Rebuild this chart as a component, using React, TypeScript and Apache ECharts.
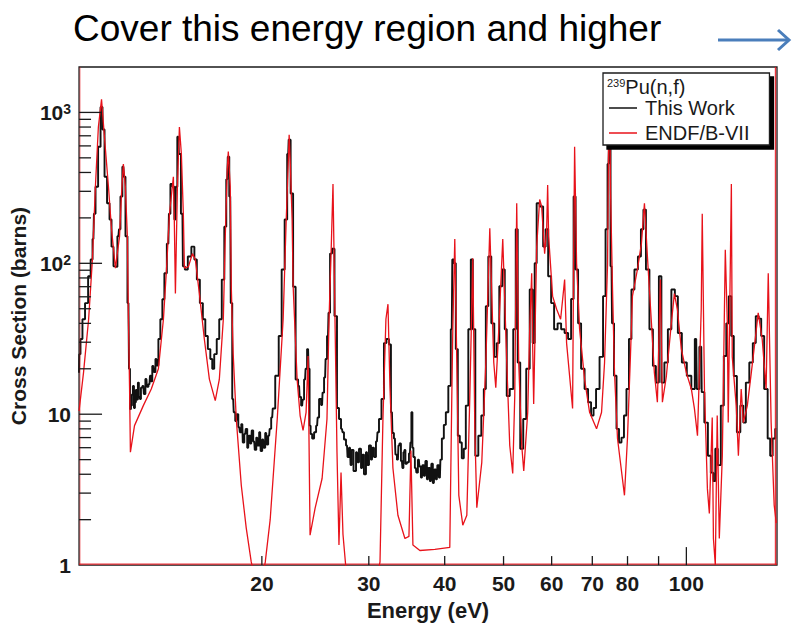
import React, { useEffect, useRef } from "react";
import * as echarts from "echarts";

// ---- Data ----
// "This Work" (measured histogram): energy (eV) and cross section (barns)
const workEnergy = [
  10.0, 10.02, 10.09, 10.17, 10.29, 10.41, 10.49, 10.56, 10.6, 10.69, 10.81, 10.89, 10.97, 11.06, 11.18, 11.27,
  11.35, 11.44, 11.52, 11.61, 11.66, 11.74, 11.83, 11.88, 11.97, 12.06, 12.11, 12.15, 12.2, 12.24, 12.29, 12.34,
  12.38, 12.43, 12.48, 12.52, 12.57, 12.62, 12.67, 12.76, 12.81, 12.91, 12.96, 13.06, 13.11, 13.15, 13.25, 13.31,
  13.41, 13.46, 13.56, 13.66, 13.77, 13.87, 14.03, 14.09, 14.19, 14.3, 14.41, 14.46, 14.57, 14.63, 14.8, 14.85,
  15.02, 15.19, 15.43, 15.54, 15.72, 15.9, 16.08, 16.2, 16.39, 16.51, 16.63, 16.76, 16.95, 17.08, 17.28, 17.41,
  17.54, 17.61, 17.74, 17.81, 17.94, 18.01, 18.15, 18.22, 18.36, 18.43, 18.57, 18.64, 18.78, 18.85, 18.99, 19.07,
  19.21, 19.28, 19.43, 19.51, 19.65, 19.72, 19.87, 19.95, 20.1, 20.18, 20.33, 20.41, 20.56, 20.64, 20.8, 20.88,
  21.2, 21.44, 21.68, 21.93, 22.1, 22.18, 22.43, 22.6, 22.86, 23.03, 23.12, 23.3, 23.38, 23.56, 23.65, 23.83,
  23.92, 24.01, 24.11, 24.29, 24.47, 24.66, 24.75, 24.94, 25.13, 25.22, 25.42, 25.51, 25.7, 25.8, 26.0, 26.19,
  26.49, 26.69, 26.9, 27.1, 27.2, 27.41, 27.62, 27.73, 27.94, 28.05, 28.15, 28.47, 28.69, 28.8, 29.01, 29.24,
  29.34, 29.57, 29.79, 29.91, 30.13, 30.36, 30.48, 30.71, 30.94, 31.06, 31.3, 31.65, 31.89, 32.26, 32.5, 32.75,
  32.87, 33.12, 33.25, 33.5, 33.63, 33.76, 34.01, 34.14, 34.27, 34.4, 34.53, 34.8, 35.06, 35.19, 35.32, 35.46,
  35.59, 35.86, 36.0, 36.27, 36.41, 36.69, 36.83, 37.11, 37.25, 37.53, 37.67, 37.96, 38.1, 38.39, 38.54, 38.83,
  38.98, 39.28, 39.43, 39.72, 40.02, 40.33, 40.78, 41.09, 41.25, 41.56, 41.88, 42.2, 42.52, 42.84, 43.17, 43.5,
  44.0, 44.33, 44.67, 45.18, 45.7, 46.22, 46.57, 46.93, 47.46, 48.0, 48.55, 48.92, 49.48, 50.04, 50.42, 50.8,
  51.58, 52.17, 52.56, 52.96, 53.57, 54.18, 54.8, 55.63, 56.05, 56.48, 56.9, 57.77, 58.43, 58.88, 59.55, 60.22,
  60.91, 61.84, 62.55, 63.5, 64.23, 64.96, 65.46, 65.95, 66.71, 67.47, 68.5, 69.28, 70.07, 70.6, 71.41, 72.5,
  73.33, 73.89, 74.45, 74.73, 75.3, 75.58, 76.44, 77.02, 77.9, 78.48, 79.38, 79.98, 80.89, 81.51, 82.75, 83.69,
  84.65, 85.3, 86.27, 87.59, 88.58, 89.59, 90.62, 91.31, 92.7, 93.76, 95.19, 96.28, 97.37, 99.24, 101.1, 102.7,
  103.8, 104.3, 105.8, 106.2, 107.9, 109.1, 110.3, 111.2, 112.0, 113.3, 114.6, 115.9, 116.8, 118.1, 119.0, 120.4,
  121.8, 123.6, 124.6, 126.0, 127.9, 129.4, 130.8, 132.3, 133.3, 135.3, 136.9, 137.9, 139.5, 140.6,
];
const workXs = [
  18.8, 25, 31.5, 42.6, 54.5, 82, 106, 145, 213, 322, 592, 1087, 770, 375, 250, 195,
  129, 95.5, 95, 151, 168, 277, 437, 375, 151, 54.5, 20, 10.8, 11.4, 13.5, 15.4, 11.0,
  12, 14.5, 12.5, 16.2, 13.0, 12.6, 15.0, 15.4, 13.6, 17.1, 15.2, 15.8, 18.0, 16.5, 20.9, 19.0,
  23.2, 21.0, 31.5, 42.6, 57.8, 86, 135, 213, 336, 322, 195, 322, 690, 530, 213, 95.5,
  91, 111, 129, 106, 78, 54.5, 42.6, 33, 27, 23.2, 20, 25, 31.5, 42.6, 78, 175,
  360, 508, 277, 54.5, 12.6, 10.3, 9.0, 10.0, 8.2, 7.6, 8.6, 6.5, 7.4, 8.0, 6.0, 7.2,
  6.4, 7.8, 6.6, 5.8, 7.0, 6.2, 7.6, 5.7, 6.8, 6.0, 7.5, 6.3, 7.2, 8.0, 9.5, 10.9,
  18, 33, 91, 195, 530, 660, 290, 70, 17, 15.4, 13, 11.4, 12.5, 17, 20, 27,
  20, 8.4, 7.4, 6.9, 7.6, 8.4, 9.5, 12.6, 11.5, 13.9, 17.5, 23.2, 33, 47, 116, 125,
  44.7, 11, 9.3, 8.0, 7.6, 6.8, 6.2, 5.2, 6.0, 4.6, 5.8, 4.2, 5.6, 4.8, 5.9, 4.4,
  5.4, 4.0, 5.6, 4.6, 6.2, 5.0, 6.0, 5.2, 6.6, 7.6, 9.3, 12.6, 29.6, 31.5, 29, 10.3,
  7.5, 6.9, 5.4, 5.0, 6.2, 6.4, 4.9, 4.4, 5.6, 5.8, 4.7, 4.8, 5.5, 6.5, 10.3, 6.0,
  5.2, 4.4, 4.1, 5.0, 4.5, 3.8, 4.6, 3.9, 4.9, 3.7, 4.4, 3.6, 4.7, 3.5, 4.3, 3.7,
  4.6, 3.8, 5.0, 6.9, 8.5, 10.3, 15.4, 36.6, 106, 100, 27, 7.2, 6.5, 5.1, 5.9, 11.4,
  36.6, 106, 36.6, 5.3, 7.2, 9.8, 14.7, 52, 111, 40, 24, 29.6, 70.5, 91, 36.6, 13.2,
  14.7, 36.6, 168, 22, 5.9, 9.3, 20, 67, 29.6, 100, 250, 238, 129, 168, 82, 54.5,
  36.6, 40, 36.6, 34.5, 31.5, 58, 277, 91, 40, 20, 14.7, 12, 9.8, 11, 14.7, 24,
  60.6, 168, 455, 650, 95.5, 40, 18, 8, 6.5, 7.0, 9.8, 14.7, 31.5, 67, 91, 111,
  168, 227, 91, 36.6, 20.9, 16.2, 82, 16.2, 22, 36.6, 67, 60.6, 34.5, 22, 18, 14.7,
  31.5, 14.7, 28, 14, 8.8, 5.3, 4.1, 3.6, 5.9, 4.6, 11.4, 24.3, 40, 60.6, 33, 17.9,
  7.6, 11.4, 8.8, 16.2, 22, 29.6, 44.7, 43, 33, 14.7, 6.9, 5.3, 6.9, 8,
];

// ENDF/B-VII evaluation: energy (eV) and cross section (barns)
const endfEnergy = [
  10.0, 10.17, 10.37, 10.52, 10.64, 10.76, 10.89, 11.01, 11.18, 11.31, 11.48, 11.66, 11.74, 11.83, 11.92, 12.01,
  12.06, 12.11, 12.15, 12.34, 12.76, 13.15, 13.51, 13.77, 13.93, 14.09, 14.3, 14.35, 14.41, 14.52, 14.63, 14.74,
  14.85, 14.91, 15.14, 15.37, 15.54, 15.78, 16.08, 16.39, 16.76, 17.02, 17.28, 17.41, 17.54, 17.61, 17.74, 17.81,
  17.94, 18.15, 18.5, 18.85, 19.21, 19.51, 19.8, 20.03, 20.26, 20.64, 21.2, 21.68, 21.93, 22.1, 22.18, 22.26,
  22.43, 22.52, 22.86, 23.12, 23.38, 23.65, 23.83, 24.01, 24.47, 25.13, 25.6, 25.8, 26.0, 26.19, 26.39, 26.59,
  26.79, 27.0, 27.2, 27.61, 28.47, 29.57, 30.71, 31.3, 31.65, 32.01, 32.26, 32.5, 32.87, 33.5, 34.4, 34.93,
  35.19, 35.46, 36.41, 38.54, 40.78, 41.09, 41.25, 41.56, 41.88, 42.2, 42.84, 43.5, 44.0, 44.5, 44.84, 45.18,
  46.04, 46.75, 47.46, 47.82, 48.18, 48.55, 49.11, 49.85, 50.61, 51.19, 51.77, 52.17, 52.56, 52.96, 53.57, 53.98,
  54.8, 55.21, 55.63, 55.84, 56.05, 56.69, 57.34, 57.77, 58.43, 58.88, 59.1, 59.32, 60.22, 61.15, 62.08, 63.03,
  63.5, 64.96, 65.21, 65.46, 65.95, 66.71, 67.98, 69.28, 71.14, 72.5, 73.33, 74.17, 74.45, 74.73, 75.01, 75.58,
  76.15, 77.02, 79.08, 79.98, 80.89, 81.51, 83.06, 84.33, 85.3, 86.27, 87.59, 88.58, 89.59, 90.62, 91.31, 92.7,
  94.47, 95.55, 96.65, 98.11, 100.0, 101.9, 103.1, 104.3, 105.8, 106.2, 107.1, 108.3, 109.1, 110.3, 110.8, 111.6,
  112.4, 113.3, 114.6, 115.9, 116.8, 117.2, 118.6, 119.0, 120.8, 121.8, 123.1, 124.1, 126.0, 127.9, 129.4, 131.3,
  133.3, 135.3, 136.4, 137.9, 139.5, 140.6,
];
const endfXs = [
  10.5, 18.8, 42.6, 106, 322, 800, 1220, 690, 322, 168, 93, 151, 277, 455, 322, 151,
  42.6, 15.4, 5.6, 8.4, 11.4, 14.7, 20, 42.6, 91, 213, 375, 195, 63, 322, 800, 530,
  213, 93, 95, 116, 106, 63, 31.5, 17.1, 12.3, 17, 42.6, 151, 418, 550, 322, 70,
  25, 9.3, 3.37, 1.76, 1.05, 0.8, 0.72, 0.8, 1.05, 2.0, 9.3, 42.6, 190, 450, 710, 500,
  195, 70, 17, 9.8, 7.8, 10.3, 24.3, 1.58, 2.38, 3.75, 9.3, 42.6, 116, 335, 42.6, 5.6,
  1.36, 4.1, 1.6, 0.8, 0.45, 0.5, 0.7, 1.05, 9.3, 42.6, 53.6, 15.4, 4.4, 2.14, 1.5, 1.55,
  5.75, 1.36, 1.25, 1.27, 1.31, 13, 36.6, 145, 21.9, 2.9, 1.84, 2.14, 13.2, 108, 8, 2.4,
  4.8, 22, 171, 60.6, 22, 15, 36.6, 145, 22, 6.2, 4.05, 13.2, 250, 22, 6.2, 4.2,
  10.3, 36.6, 86, 28, 11.7, 129, 265, 238, 116, 168, 330, 151, 60.6, 49.6, 42.6, 78,
  29.6, 10.9, 100, 592, 100, 36.6, 17, 10.3, 8, 10.3, 22, 100, 600, 1500, 300, 67,
  18.8, 6.9, 2.9, 6.9, 24.3, 60.6, 91, 135, 250, 111, 40.3, 18.8, 12, 78, 12, 17.9,
  40.3, 63, 49.6, 27, 18.8, 14.7, 10.9, 7.2, 50, 213, 14.7, 3.2, 2.2, 9.5, 1.5, 1.0,
  9.8, 1.5, 5.3, 123, 40, 8.8, 336, 24, 11.4, 5.3, 14.7, 8.8, 11.4, 18.8, 28, 47,
  31.5, 14.7, 86, 8.8, 2.5, 1.9,
];

// Axis tick values
const xLabelValues = [20, 30, 40, 50, 60, 70, 80, 100];
const xTickValues = [20, 30, 40, 50, 60, 70, 80, 90, 100];
const xDecadeTicks = [100];
const yMajorTicks = [10, 100, 1000];
const yMinorTicks = [2, 3, 4, 5, 6, 7, 8, 9, 20, 30, 40, 50, 60, 70, 80, 90, 200, 300, 400, 500, 600, 700, 800, 900];

const seriesNames = ["This Work", "ENDF/B-VII"];
const headline = "Cover this energy region and higher";

const FONT = '"Liberation Sans", Arial, Helvetica, sans-serif';
const INK = "#1a1a1a";
const RED = "#e8121a";

export default function App() {
  const ref = useRef<HTMLDivElement>(null);

  useEffect(() => {
    if (!ref.current) return;
    const chart = echarts.init(ref.current, null, { renderer: "svg" });

    const work = workEnergy.map((e, i) => [e, workXs[i]]);
    const endf = endfEnergy.map((e, i) => [e, endfXs[i]]);

    const yFormatter = (v: number) => {
      const e = Math.log10(v);
      const r = Math.round(e);
      if (Math.abs(e - r) > 1e-6) return "";
      if (r === 0) return "1";
      if (r === 1) return "10";
      return `{b|10}{s|${r}}`;
    };

    chart.setOption({
      animation: false,
      grid: {
        left: 78,
        right: 15,
        top: 67,
        bottom: 58,
        show: true,
        borderColor: INK,
        borderWidth: 1.3,
        backgroundColor: "transparent",
      },
      legend: {
        orient: "vertical",
        left: 603,
        top: 73,
        data: [
          { name: seriesNames[0], icon: "rect" },
          { name: seriesNames[1], icon: "rect" },
        ],
        itemWidth: 28,
        itemHeight: 1.5,
        itemGap: 5,
        padding: [25, 20, 2, 6],
        backgroundColor: "#fff",
        borderColor: INK,
        borderWidth: 1.3,
        shadowColor: "#000",
        shadowOffsetX: 4,
        shadowOffsetY: 4,
        shadowBlur: 0,
        selectedMode: false,
        textStyle: { fontFamily: FONT, fontSize: 20, color: INK, padding: [0, 0, 0, 3] },
      },
      xAxis: {
        type: "log",
        logBase: 10,
        min: 10,
        max: 141,
        axisLine: { show: false },
        axisTick: { show: false },
        splitLine: { show: false },
        axisLabel: {
          customValues: xLabelValues,
          margin: 8,
          fontFamily: FONT,
          fontSize: 21,
          fontWeight: "bold",
          color: INK,
          formatter: (v: number) => String(Math.round(v)),
        },
        name: "Energy (eV)",
        nameLocation: "middle",
        nameGap: 26,
        nameTextStyle: { fontFamily: FONT, fontSize: 22, fontWeight: "bold", color: INK },
      },
      yAxis: {
        type: "log",
        logBase: 10,
        min: 1,
        max: 2000,
        axisLine: { show: false },
        axisTick: { show: false },
        splitLine: { show: false },
        axisLabel: {
          margin: 8,
          fontFamily: FONT,
          fontSize: 21,
          fontWeight: "bold",
          color: INK,
          showMaxLabel: false,
          formatter: yFormatter,
          rich: {
            b: { fontFamily: FONT, fontSize: 21, fontWeight: "bold", color: INK },
            s: { fontFamily: FONT, fontSize: 14, fontWeight: "bold", color: INK, verticalAlign: "top" },
          },
        },
        name: "Cross Section (barns)",
        nameLocation: "middle",
        nameGap: 43,
        nameTextStyle: { fontFamily: FONT, fontSize: 21, fontWeight: "bold", color: INK },
      },
      series: [
        {
          name: seriesNames[0],
          type: "line",
          step: "middle",
          data: work,
          symbol: "none",
          color: "#111",
          lineStyle: { color: "#111", width: 1.9 },
          z: 2,
        },
        {
          name: seriesNames[1],
          type: "line",
          data: endf,
          symbol: "none",
          color: RED,
          lineStyle: { color: RED, width: 1.3 },
          z: 3,
        },
      ],
    });

    const px = (x: number, y: number) =>
      chart.convertToPixel({ gridIndex: 0 }, [x, y]) as number[];

    const bl = px(10, 1);
    const tr = px(141, 2000);
    const left = bl[0];
    const bottom = bl[1];
    const right = tr[0];
    const top = tr[1];

    const graphics: any[] = [];
    const tick = (x1: number, y1: number, x2: number, y2: number) =>
      graphics.push({
        type: "line",
        z: 10,
        shape: { x1, y1, x2, y2 },
        style: { stroke: INK, lineWidth: 1.3 },
      });

    yMajorTicks.forEach((v) => {
      const p = px(10, v);
      tick(left, p[1], left + 23, p[1]);
    });
    yMinorTicks.forEach((v) => {
      const p = px(10, v);
      tick(left, p[1], left + 12, p[1]);
    });
    xTickValues.forEach((v) => {
      const p = px(v, 1);
      const len = xDecadeTicks.includes(v) ? 18 : 9;
      tick(p[0], bottom, p[0], bottom - len);
    });

    // red inner frame lines (bottom, right, left)
    graphics.push(
      { type: "line", z: 9, shape: { x1: left, y1: bottom - 1, x2: right, y2: bottom - 1 }, style: { stroke: RED, lineWidth: 1.4, opacity: 0.85 } },
      { type: "line", z: 9, shape: { x1: right - 1.5, y1: top, x2: right - 1.5, y2: bottom }, style: { stroke: RED, lineWidth: 1.4, opacity: 0.85 } },
      { type: "line", z: 9, shape: { x1: left + 1, y1: top, x2: left + 1, y2: bottom }, style: { stroke: RED, lineWidth: 1, opacity: 0.5 } }
    );

    // legend header
    graphics.push({
      type: "text",
      z: 20,
      left: 607,
      top: 77,
      style: {
        text: "{s|239}{b|Pu(n,f)}",
        rich: {
          s: { fontFamily: FONT, fontSize: 11, fill: INK, verticalAlign: "top" },
          b: { fontFamily: FONT, fontSize: 20, fill: INK },
        },
      },
    });

    // headline and arrow
    graphics.push(
      {
        type: "text",
        z: 20,
        style: {
          x: 73,
          y: 28,
          text: headline,
          fontFamily: FONT,
          fontSize: 37,
          fill: "#000",
          textVerticalAlign: "middle",
        },
      },
      {
        type: "polyline",
        z: 20,
        shape: { points: [[718, 40], [789, 40]] },
        style: { stroke: "#4a7ebb", lineWidth: 3, fill: "none" },
      },
      {
        type: "polyline",
        z: 20,
        shape: { points: [[778, 30], [789, 40], [778, 50]] },
        style: { stroke: "#4a7ebb", lineWidth: 3, fill: "none" },
      }
    );

    chart.setOption({ graphic: graphics });

    return () => chart.dispose();
  }, []);

  return (
    <div
      ref={ref}
      style={{ position: "absolute", left: 0, top: 0, width: 792, height: 626, background: "#fff" }}
    />
  );
}
